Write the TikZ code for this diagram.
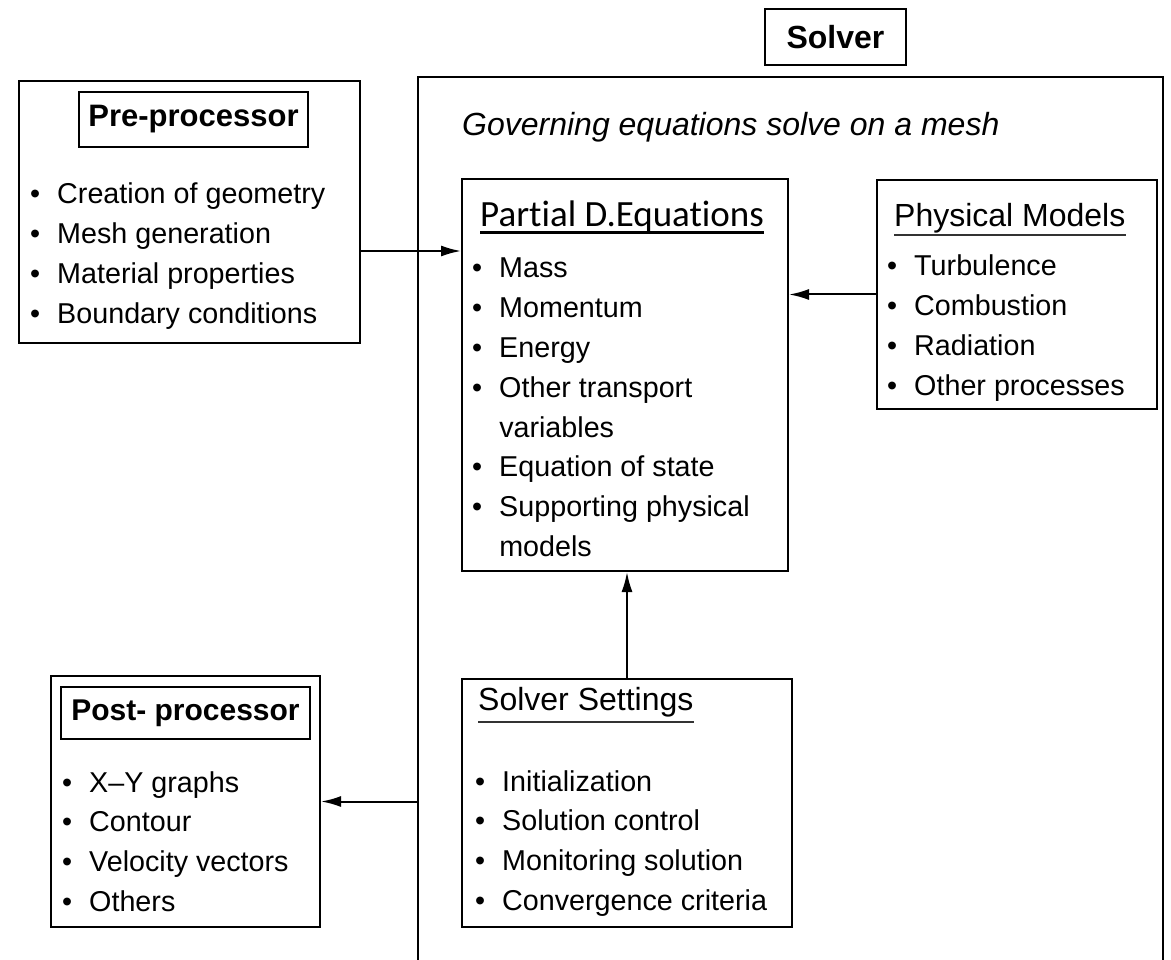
\documentclass[tikz,border=0pt]{standalone}
\usepackage{fontspec}
\setmainfont{Liberation Sans}
\newfontfamily\calibrifont[Ligatures=NoCommon]{Carlito}
\usetikzlibrary{arrows.meta,calc}

\newcommand\itemfont{\fontsize{28.7}{39.8}\selectfont}
\newcommand\titlefont{\fontsize{32}{38}\selectfont}
% bulleted list: bullet column, gap, text column
\newcommand\blist[1]{\begin{tabular}[t]{@{}l@{\hspace{17pt}}l@{}}#1\end{tabular}}

\tikzset{
  box/.style={draw, line width=2pt, inner sep=0pt},
  titlebox/.style={draw, line width=2pt, inner sep=0pt, font=\titlefont\bfseries},
  arr/.style={line width=2pt, -{Latex[length=20pt,width=11pt]}},
  listtext/.style={anchor=base west, inner sep=0pt, font=\itemfont},
  head/.style={anchor=base west, inner sep=0pt, font=\titlefont},
  uline/.style={line width=2.5pt},
}

\begin{document}
\begin{tikzpicture}[x=1pt,y=-1pt]
\useasboundingbox (0,0) rectangle (1171,960);

% ---- solver frame (open at the bottom) ----
\node[inner sep=0pt, minimum width=745pt, minimum height=885pt, anchor=north west] (frame) at (418,77) {};
\draw[line width=2pt] (frame.south west) |- (frame.north east) -- (frame.south east);
\node[titlebox, minimum width=141pt, minimum height=56pt] (solvertitle) at (835.5,37) {Solver};
\node[anchor=base west, inner sep=0pt, font=\titlefont\itshape] (gov) at (462,136) {Governing equations solve on a mesh};

% ---- pre-processor ----
\node[box, minimum width=341pt, minimum height=262pt] (pre) at (189.5,212) {};
\node[titlebox, minimum width=229pt, minimum height=55pt, font=\fontsize{31}{38}\selectfont\bfseries] (pretitle) at (193.5,119.5) {Pre-processor};
\node[listtext] (prelist) at (30,204) {\blist{
  \textbullet & Creation of geometry\\
  \textbullet & Mesh generation\\
  \textbullet & Material properties\\
  \textbullet & Boundary conditions}};

% ---- partial differential equations ----
\node[box, minimum width=326pt, minimum height=392pt] (pde) at (625,375) {};
\node[anchor=base west, inner sep=0pt, font=\calibrifont\fontsize{37}{44}\selectfont] (pdehead) at (480,227) {Partial D.Equations};
\draw[line width=3pt] ([yshift=-6pt]pdehead.base west) -- ([yshift=-6pt]pdehead.base east);
\node[listtext] (pdelist) at (472,278) {\blist{
  \textbullet & Mass\\
  \textbullet & Momentum\\
  \textbullet & Energy\\
  \textbullet & Other transport\\
              & variables\\
  \textbullet & Equation of state\\
  \textbullet & Supporting physical\\
              & models}};

% ---- physical models ----
\node[box, minimum width=280pt, minimum height=229pt] (phys) at (1017,294.5) {};
\node[head] (physhead) at (894,227) {Physical Models};
\draw[uline, black!80] ([yshift=-8pt]physhead.base west) -- ([yshift=-8pt]physhead.base east);
\node[listtext] (physlist) at (887,276) {\blist{
  \textbullet & Turbulence\\
  \textbullet & Combustion\\
  \textbullet & Radiation\\
  \textbullet & Other processes}};

% ---- solver settings ----
\node[box, minimum width=330pt, minimum height=248pt] (settings) at (627,803) {};
\node[head] (sethead) at (478,710) {Solver Settings};
\draw[uline, black!80] ([yshift=-12pt]sethead.base west) -- ([yshift=-12pt]sethead.base east);
\node[listtext] (setlist) at (475,791) {\blist{
  \textbullet & Initialization\\
  \textbullet & Solution control\\
  \textbullet & Monitoring solution\\
  \textbullet & Convergence criteria}};

% ---- post-processor ----
\node[box, minimum width=269pt, minimum height=251pt] (post) at (185.5,801.5) {};
\node[titlebox, minimum width=249pt, minimum height=52pt, font=\fontsize{30}{36}\selectfont\bfseries] (posttitle) at (185.5,713) {Post- processor};
\node[listtext] (postlist) at (62,792) {\blist{
  \textbullet & X--Y graphs\\
  \textbullet & Contour\\
  \textbullet & Velocity vectors\\
  \textbullet & Others}};

% ---- connectors ----
\coordinate (prearr) at ([yshift=-39pt]pre.east);
\draw[arr] (prearr) -- (prearr -| pde.west);
\draw[arr] (phys.west) -- (phys.west -| pde.east);
\draw[arr] (settings.north) -- (settings.north |- pde.south);
\draw[arr] (post.east -| frame.west) -- (post.east);
\end{tikzpicture}
\end{document}
